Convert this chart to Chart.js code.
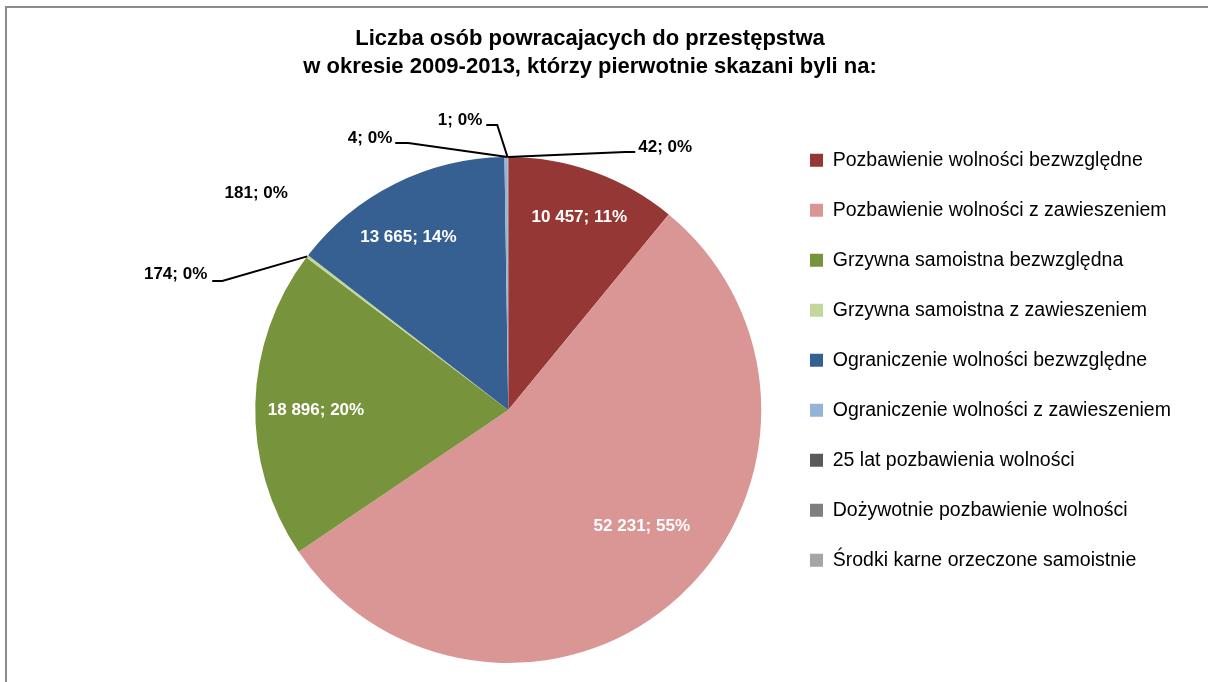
<!DOCTYPE html>
<html lang="pl">
<head>
<meta charset="utf-8">
<title>Liczba osób powracających do przestępstwa</title>
<script src="https://cdn.jsdelivr.net/npm/chart.js@4.4.0/dist/chart.umd.min.js"></script>
<style>
  html, body { margin: 0; padding: 0; background: #fff; overflow: hidden; }
  body { width: 1208px; height: 682px; position: relative; }
  /* grey frame of the original sheet, runs off the right and bottom edge */
  .frame { position: absolute; left: 5px; top: 6px; width: 1400px; height: 900px; border: 2px solid #8c8c8c; }
  #chart { position: absolute; left: 0; top: 0; }
</style>
</head>
<body>
<div class="frame"></div>
<canvas id="chart" width="1208" height="700"></canvas>
<script>
// ---------- data ----------
const titleLines = [
  'Liczba osób powracajacych do przestępstwa',
  'w okresie 2009-2013, którzy pierwotnie skazani byli na:'
];

const categories = [
  'Pozbawienie wolności bezwzględne',
  'Pozbawienie wolności z zawieszeniem',
  'Grzywna samoistna bezwzględna',
  'Grzywna samoistna z zawieszeniem',
  'Ograniczenie wolności bezwzględne',
  'Ograniczenie wolności z zawieszeniem',
  '25 lat pozbawienia wolności',
  'Dożywotnie pozbawienie wolności',
  'Środki karne orzeczone samoistnie'
];

const counts = [10457, 52231, 18896, 174, 13665, 181, 4, 1, 42];

// ---------- styles ----------
const sliceColors = [
  '#953735', '#d99694', '#77933c', '#c3d69b',
  '#376092', '#95b3d7', '#595959', '#7f7f7f', '#a5a5a5'
];

const FONT = "'Liberation Sans', Arial, sans-serif";

// where each data label goes: inside (radius factor + angle nudge)
// or outside (offsets from pie centre for elbow, line end and text)
const labelPlacement = [
  { inside: true, rf: 0.81, da: 0.6 },
  { inside: true, rf: 0.70, da: -6.6 },
  { inside: true, rf: 0.76, da: -1.5 },
  { elbow: [-286, -129], end: [-296, -129], text: [-301, -136], align: 'right' },
  { inside: true, rf: 0.79, da: -3.4 },
  { text: [-252, -217], align: 'center' },
  { elbow: [-100, -267], end: [-113, -267], text: [-116, -272], align: 'right' },
  { elbow: [-11, -285], end: [-22, -285], text: [-26, -290], align: 'right' },
  { elbow: [117, -258], end: [127, -258], text: [130, -263], align: 'left' }
];

const fmt = (v) => String(v).replace(/\B(?=(\d{3})+(?!\d))/g, ' ');

// ---------- plugins ----------
const titlePlugin = {
  id: 'sketchTitle',
  afterDraw(chart) {
    const { ctx } = chart;
    ctx.save();
    ctx.font = `bold 22px ${FONT}`;
    ctx.fillStyle = '#000';
    ctx.textAlign = 'center';
    ctx.textBaseline = 'alphabetic';
    titleLines.forEach((line, i) => ctx.fillText(line, 590, 45 + i * 27.5));
    ctx.restore();
  }
};

const sliceLabels = {
  id: 'sliceLabels',
  afterDatasetsDraw(chart) {
    const { ctx } = chart;
    const meta = chart.getDatasetMeta(0);
    const total = counts.reduce((a, b) => a + b, 0);
    ctx.save();
    ctx.font = `bold 17px ${FONT}`;
    ctx.textBaseline = 'middle';
    meta.data.forEach((arc, i) => {
      const { x, y, startAngle, endAngle, outerRadius } =
        arc.getProps(['x', 'y', 'startAngle', 'endAngle', 'outerRadius'], true);
      const text = fmt(counts[i]) + '; ' + Math.round(counts[i] / total * 100) + '%';
      const place = labelPlacement[i];
      const mid = (startAngle + endAngle) / 2;

      if (place.inside) {
        const a = mid + place.da * Math.PI / 180;
        const r = outerRadius * place.rf;
        ctx.fillStyle = '#fff';
        ctx.textAlign = 'center';
        ctx.fillText(text, x + r * Math.cos(a), y + r * Math.sin(a));
        return;
      }

      if (place.elbow) {
        ctx.beginPath();
        ctx.moveTo(x + outerRadius * Math.cos(mid), y + outerRadius * Math.sin(mid));
        ctx.lineTo(x + place.elbow[0], y + place.elbow[1]);
        ctx.lineTo(x + place.end[0], y + place.end[1]);
        ctx.lineWidth = 2;
        ctx.strokeStyle = '#000';
        ctx.stroke();
      }
      ctx.fillStyle = '#000';
      ctx.textAlign = place.align;
      ctx.fillText(text, x + place.text[0], y + place.text[1]);
    });
    ctx.restore();
  }
};

// ---------- chart ----------
new Chart(document.getElementById('chart'), {
  type: 'pie',
  data: {
    labels: categories,
    datasets: [{
      data: counts,
      backgroundColor: sliceColors,
      borderWidth: 0,
      radius: 253
    }]
  },
  options: {
    responsive: false,
    animation: false,
    devicePixelRatio: 1,
    layout: { padding: { left: 237, right: 28.5, top: 120, bottom: 0 } },
    plugins: {
      title: { display: false },
      tooltip: { enabled: false },
      legend: {
        position: 'right',
        align: 'start',
        maxWidth: 400,
        labels: {
          boxWidth: 13,
          boxHeight: 13,
          padding: 30.5,
          color: '#000',
          font: { family: FONT, size: 19.5 }
        }
      }
    }
  },
  plugins: [titlePlugin, sliceLabels]
});
</script>
</body>
</html>
